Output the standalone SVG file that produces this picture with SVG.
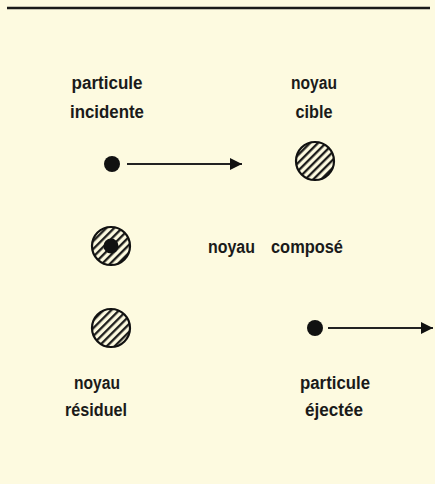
<svg xmlns="http://www.w3.org/2000/svg" width="435" height="484" viewBox="0 0 435 484">
  <defs>
    <style>
      .lbl { font-family: "Liberation Sans", Arial, sans-serif; font-weight: bold; font-size: 18px; fill: #1a1a1a; text-anchor: middle; }
      .lbl-start { font-family: "Liberation Sans", Arial, sans-serif; font-weight: bold; font-size: 18px; fill: #1a1a1a; }
      .dot { fill: #111; }
      .nucleus { fill: url(#hatch); stroke: #111; stroke-width: 2.2; }
      .conn { stroke: #222; stroke-width: 2; fill: none; }
    </style>
    <pattern id="hatch" patternUnits="userSpaceOnUse" width="5.6" height="5.6" patternTransform="rotate(-45)">
      <rect width="5.6" height="5.6" fill="#fdfae0"/>
      <line x1="0" y1="1.2" x2="5.6" y2="1.2" stroke="#111" stroke-width="2.2"/>
    </pattern>
    <marker id="arrow" viewBox="0 0 12 12" refX="12" refY="6" markerWidth="12" markerHeight="12" markerUnits="userSpaceOnUse" orient="auto">
      <path d="M0,0 L12,6 L0,12 Z" fill="#111"/>
    </marker>
  </defs>

  <rect x="0" y="0" width="435" height="484" fill="#fdfae0"/>
  <line x1="7" y1="8" x2="430" y2="8" stroke="#1a1a1a" stroke-width="2.5"/>

  <g id="connectors">
    <line class="conn" x1="127" y1="164" x2="242" y2="164" marker-end="url(#arrow)"/>
    <line class="conn" x1="328" y1="328" x2="433" y2="328" marker-end="url(#arrow)"/>
  </g>

  <g id="particule-incidente">
    <text class="lbl" x="107" y="89" textLength="71" lengthAdjust="spacingAndGlyphs">particule</text>
    <text class="lbl" x="107" y="118" textLength="74" lengthAdjust="spacingAndGlyphs">incidente</text>
    <circle class="dot" cx="112" cy="164" r="8"/>
  </g>

  <g id="noyau-cible">
    <text class="lbl" x="314" y="89" textLength="46" lengthAdjust="spacingAndGlyphs">noyau</text>
    <text class="lbl" x="314" y="118" textLength="37" lengthAdjust="spacingAndGlyphs">cible</text>
    <circle class="nucleus" cx="315" cy="161" r="19"/>
  </g>

  <g id="noyau-compose">
    <circle class="nucleus" cx="111" cy="246" r="19"/>
    <circle class="dot" cx="111" cy="246" r="7.5"/>
    <text class="lbl-start" x="208" y="253" textLength="47" lengthAdjust="spacingAndGlyphs">noyau</text>
    <text class="lbl-start" x="271" y="253" textLength="72" lengthAdjust="spacingAndGlyphs">composé</text>
  </g>

  <g id="noyau-residuel">
    <circle class="nucleus" cx="111" cy="328" r="19"/>
    <text class="lbl" x="97" y="389" textLength="46" lengthAdjust="spacingAndGlyphs">noyau</text>
    <text class="lbl" x="96" y="416" textLength="62" lengthAdjust="spacingAndGlyphs">résiduel</text>
  </g>

  <g id="particule-ejectee">
    <circle class="dot" cx="315" cy="328" r="8"/>
    <text class="lbl" x="335" y="389" textLength="70" lengthAdjust="spacingAndGlyphs">particule</text>
    <text class="lbl" x="334" y="416" textLength="58" lengthAdjust="spacingAndGlyphs">éjectée</text>
  </g>
</svg>
